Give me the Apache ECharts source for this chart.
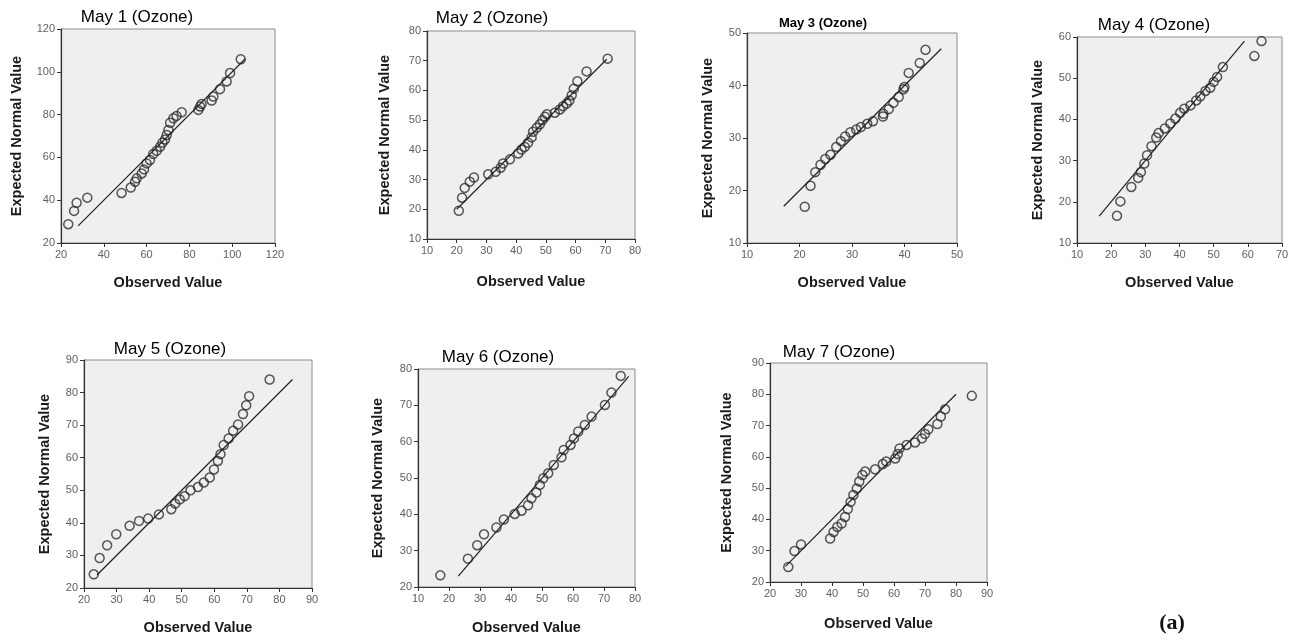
<!DOCTYPE html>
<html>
<head>
<meta charset="utf-8">
<script src="https://cdn.jsdelivr.net/npm/echarts@6/dist/echarts.min.js"></script>
<style>
  html, body { margin: 0; background: #fff; }
  #chart { width: 1300px; height: 642px; }
</style>
</head>
<body>
<div id="chart"></div>
<script>
// Q-Q plots, observed vs expected normal value (ozone), one per day
const panelTitles = ["May 1 (Ozone)", "May 2 (Ozone)", "May 3 (Ozone)", "May 4 (Ozone)",
  "May 5 (Ozone)", "May 6 (Ozone)", "May 7 (Ozone)"];

const may1Obs = [23.4, 26.1, 27.3, 32.3, 48.3, 52.6, 54.6, 55.4, 57.7, 58.8, 60, 61.6, 63.1, 64.7, 66.3, 67.4, 68.6, 69.4, 70.2, 71, 72.5, 74, 76.4, 84.2, 85, 85.7, 90.4, 91.2, 94.3, 97.4, 99, 104];
const may1Exp = [28.8, 35, 38.8, 41.2, 43.4, 45.9, 48.6, 50.2, 52.5, 54.4, 57.2, 58.8, 61.6, 63.1, 65, 66.9, 68.4, 70.5, 72.8, 76.2, 78.3, 79.4, 81.1, 82.2, 83.8, 85, 86.6, 88.4, 91.9, 95.5, 99.4, 105.9];

const may2Obs = [20.7, 21.8, 22.7, 24.4, 25.8, 30.6, 33.1, 34.8, 35.6, 37.9, 40.7, 41.8, 42.9, 44, 45.2, 45.7, 46.9, 48, 48.9, 49.7, 50.4, 53, 54.7, 55.8, 57, 57.9, 58.7, 59.4, 60.6, 63.7, 70.8];
const may2Exp = [19.5, 23.9, 27.2, 29.3, 30.7, 31.8, 32.6, 34, 35.4, 36.8, 38.8, 40.1, 41, 42.4, 44.2, 46.1, 47.4, 48.6, 50, 51.1, 52, 52.5, 53.6, 54.7, 55.6, 56.6, 58.4, 60.6, 63.1, 66.4, 70.7];

const may3Obs = [21, 22.1, 23, 24, 24.9, 25.9, 27, 27.9, 28.7, 29.7, 30.8, 31.7, 32.9, 34, 35.9, 36, 37, 37.9, 38.9, 39.8, 40, 40.8, 42.9, 44];
const may3Exp = [16.9, 20.9, 23.5, 24.9, 26, 26.8, 28.3, 29.4, 30.3, 31.1, 31.6, 32.1, 32.7, 33.2, 34.1, 34.6, 35.5, 36.7, 37.8, 39.3, 39.7, 42.4, 44.3, 46.8];

const may4Obs = [21.7, 22.7, 25.9, 27.9, 28.7, 29.7, 30.5, 31.8, 33.2, 33.9, 35.7, 37.3, 38.8, 40.2, 41.4, 43.2, 44.9, 46.1, 47.6, 49, 50, 51, 52.7, 61.9, 64];
const may4Exp = [16.6, 20.1, 23.6, 25.8, 27.2, 29.3, 31.3, 33.5, 35.6, 36.7, 37.8, 39, 40.2, 41.6, 42.6, 43.4, 44.6, 45.6, 46.9, 47.7, 49.1, 50.3, 52.7, 55.4, 59];

const may5Obs = [23, 24.8, 27.1, 29.9, 34, 36.9, 39.7, 43, 46.8, 48, 49.4, 50.9, 52.7, 55, 56.8, 58.6, 59.9, 61.1, 61.9, 62.9, 64.4, 65.8, 67.3, 68.8, 69.8, 70.7, 77];
const may5Exp = [24.2, 29.2, 33.1, 36.5, 39.1, 40.6, 41.3, 42.6, 44.2, 45.9, 47.2, 48.2, 50, 51, 52.4, 53.9, 56.4, 59, 61.1, 63.9, 65.9, 68.3, 70.2, 73.4, 76.1, 78.9, 84];

const may6Obs = [17.2, 26.1, 29.1, 31.3, 35.3, 37.7, 41.2, 43.4, 45.5, 46.6, 48.2, 49.3, 50.4, 52, 53.8, 56.3, 57, 59.2, 60.3, 61.7, 63.8, 66, 70.3, 72.4, 75.4];
const may6Exp = [23.2, 27.8, 31.5, 34.5, 36.4, 38.6, 40.1, 41, 42.5, 44.4, 46, 48.1, 49.9, 51.3, 53.6, 55.7, 57.7, 59.1, 60.9, 62.8, 64.6, 66.9, 70.1, 73.5, 78.1];

const may7Obs = [25.9, 27.9, 30, 39.4, 40.5, 41.7, 43.1, 44.2, 45.1, 46, 46.9, 48, 48.8, 49.8, 50.7, 53.9, 56.4, 57.5, 60.4, 61.2, 61.8, 64.1, 66.8, 69, 70, 71.1, 74, 75.1, 76.5, 85.1];
const may7Exp = [24.8, 29.9, 32, 33.9, 36, 37.6, 38.7, 40.8, 43.3, 45.6, 47.8, 49.9, 52.1, 54.2, 55.3, 56, 57.7, 58.5, 59.5, 60.9, 62.7, 63.8, 64.6, 65.9, 67.3, 68.8, 70.5, 72.9, 75.2, 79.5];

// reference line y = x, start and end value
const refLines = [[28, 106], [20, 70.5], [17, 47], [16.5, 59], [24, 84], [23, 78], [25, 80]];

// axis ranges: [min, max, interval]
const xRanges = [[20, 120, 20], [10, 80, 10], [10, 50, 10], [10, 70, 10], [20, 90, 10], [10, 80, 10], [20, 90, 10]];
const yRanges = [[20, 120, 20], [10, 80, 10], [10, 50, 10], [10, 60, 10], [20, 90, 10], [20, 80, 10], [20, 90, 10]];

const observed = [may1Obs, may2Obs, may3Obs, may4Obs, may5Obs, may6Obs, may7Obs];
const expected = [may1Exp, may2Exp, may3Exp, may4Exp, may5Exp, may6Exp, may7Exp];

// layout of each panel (px)
const boxes = [
  { left: 61, top: 29, width: 214, height: 214, tx: 137, ty: 17, ts: 17, yGap: 37, xGap: 32 },
  { left: 427, top: 31, width: 208, height: 208, tx: 492, ty: 18, ts: 17, yGap: 35, xGap: 35 },
  { left: 747, top: 33, width: 210, height: 210, tx: 823, ty: 23, ts: 13, yGap: 32, xGap: 32, tb: true },
  { left: 1077, top: 37, width: 205, height: 206, tx: 1154, ty: 25, ts: 17, yGap: 32, xGap: 32 },
  { left: 84, top: 360, width: 228, height: 228, tx: 170, ty: 349, ts: 17, yGap: 32, xGap: 32 },
  { left: 418, top: 369, width: 217, height: 218, tx: 498, ty: 357, ts: 17, yGap: 33, xGap: 33 },
  { left: 770, top: 363, width: 217, height: 219, tx: 839, ty: 352, ts: 17, yGap: 36, xGap: 34 }
];

const FONT = "'Liberation Sans', Arial, sans-serif";

const chart = echarts.init(document.getElementById("chart"));

const grid = [], xAxis = [], yAxis = [], series = [], graphic = [];

boxes.forEach((b, i) => {
  grid.push({
    left: b.left, top: b.top, width: b.width, height: b.height,
    show: true, backgroundColor: "#efefef", borderColor: "#8c8c8c", borderWidth: 1
  });
  const axisCommon = {
    gridIndex: i,
    type: "value",
    nameLocation: "middle",
    nameTextStyle: { fontFamily: FONT, fontWeight: "bold", fontSize: 14.5, color: "#1a1a1a" },
    axisLine: { show: true, lineStyle: { color: "#333", width: 1.2 } },
    axisTick: { show: true, length: 4, lineStyle: { color: "#333" } },
    axisLabel: { fontFamily: FONT, fontSize: 11, color: "#606060", margin: 6 },
    splitLine: { show: false }
  };
  xAxis.push(Object.assign({}, axisCommon, {
    min: xRanges[i][0], max: xRanges[i][1], interval: xRanges[i][2],
    name: "Observed Value", nameGap: b.xGap
  }));
  yAxis.push(Object.assign({}, axisCommon, {
    min: yRanges[i][0], max: yRanges[i][1], interval: yRanges[i][2],
    name: "Expected Normal Value", nameGap: b.yGap
  }));
  series.push({
    type: "scatter",
    xAxisIndex: i, yAxisIndex: i,
    symbol: "circle", symbolSize: 9,
    itemStyle: { color: "rgba(0,0,0,0)", borderColor: "#2e2e2e", borderWidth: 1.5 },
    data: observed[i].map((v, k) => [v, expected[i][k]])
  });
  series.push({
    type: "line",
    xAxisIndex: i, yAxisIndex: i,
    symbol: "none",
    lineStyle: { color: "#222", width: 1.2 },
    data: [[refLines[i][0], refLines[i][0]], [refLines[i][1], refLines[i][1]]]
  });
  graphic.push({
    type: "text", x: b.tx, y: b.ty,
    style: {
      text: panelTitles[i], fill: "#000",
      font: (b.tb ? "bold " : "") + b.ts + "px " + FONT,
      textAlign: "center", textVerticalAlign: "middle"
    }
  });
});

graphic.push({
  type: "text", x: 1172, y: 623,
  style: {
    text: "(a)", fill: "#111",
    font: "bold 22px 'Liberation Serif', 'DejaVu Serif', serif",
    textAlign: "center", textVerticalAlign: "middle"
  }
});

chart.setOption({
  animation: false,
  grid: grid,
  xAxis: xAxis,
  yAxis: yAxis,
  series: series,
  graphic: graphic
});
</script>
</body>
</html>
